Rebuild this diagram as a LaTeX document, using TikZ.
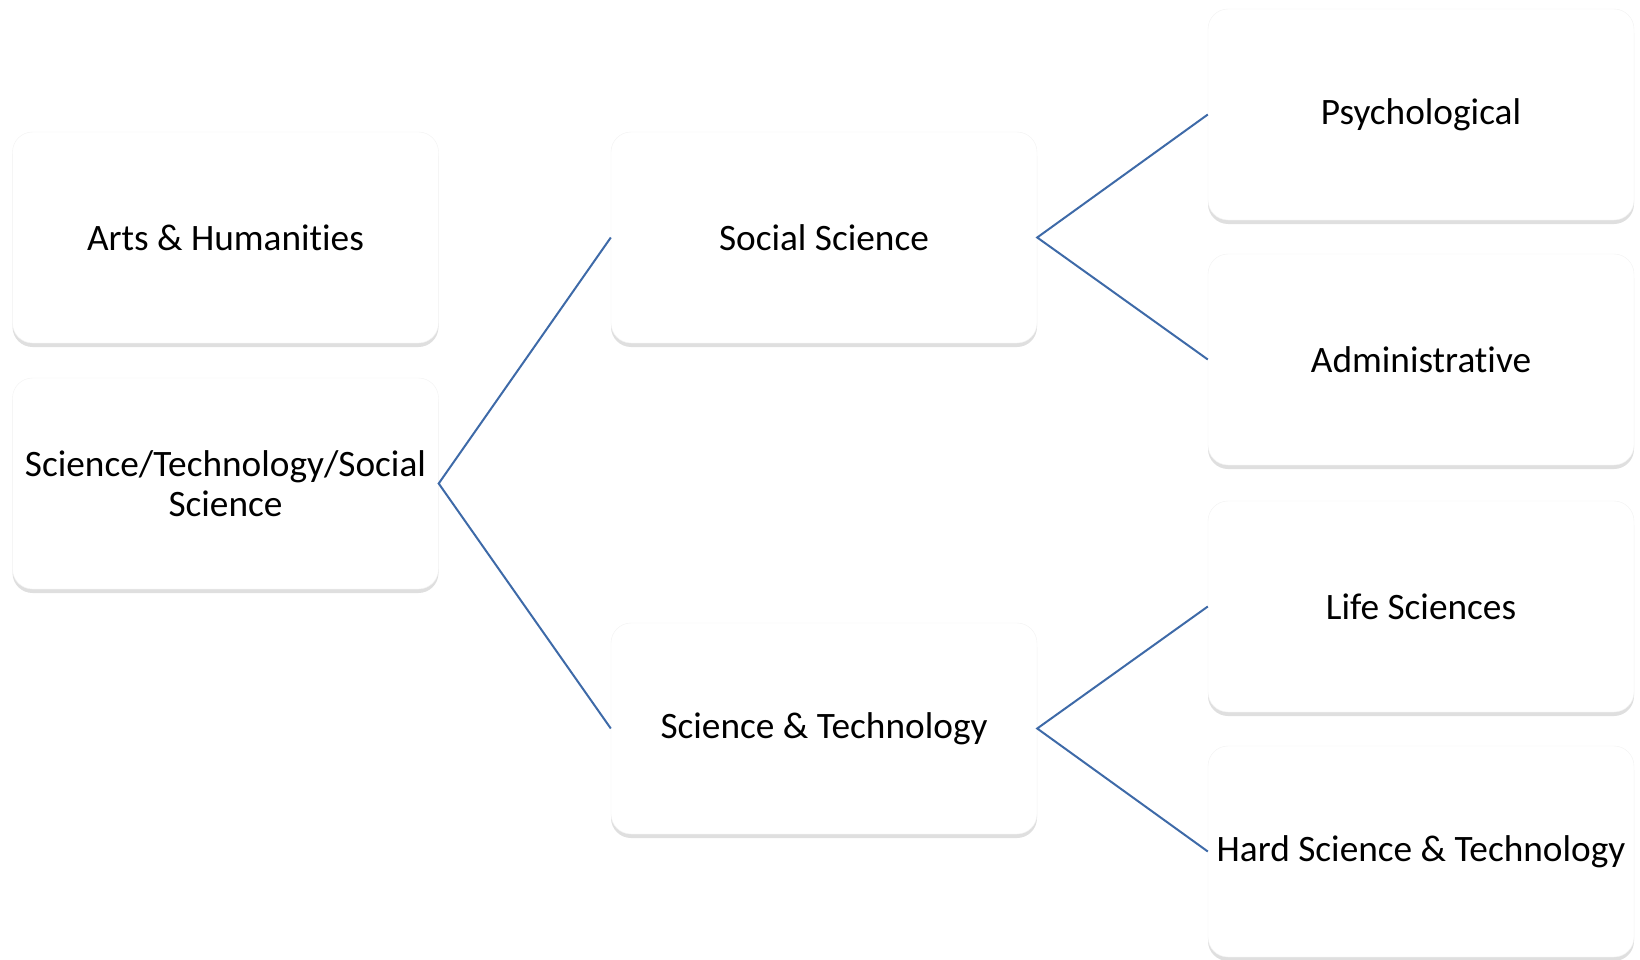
\documentclass[tikz,border=0pt]{standalone}
\usepackage{fontspec}
\setmainfont[Ligatures=NoCommon]{Carlito}
\usetikzlibrary{shadows}
\definecolor{linkblue}{RGB}{62,106,168}
\tikzset{
	field/.style={rectangle, rounded corners=20pt, fill=white, draw=gray!10,
		minimum width=426pt, minimum height=211pt, align=center, inner sep=0pt,
		font=\fontsize{37.3}{40.5}\selectfont,
		drop shadow={opacity=0.25, shadow xshift=0pt, shadow yshift=-4pt}},
	link/.style={linkblue, line width=2pt}
}
\begin{document}
\begin{tikzpicture}[x=1pt, y=-1pt]
		\useasboundingbox (0,0) rectangle (1640,960);
		%first level
		\node[field] (arts) at (225.5, 237.5){Arts \& Humanities};
		\node[field] (sts) at (225.5, 483.5){Science/Technology/Social\\Science};
		
		%second level
		\node[field] (soc) at (824, 237.5){Social Science};
		\node[field] (scitech) at (824, 728.5){Science \& Technology};
		
		%third level
		\node[field] (psy) at (1421, 114.5){Psychological};
		\node[field] (adm) at (1421, 359.5){Administrative};
		\node[field] (life) at (1421, 606.5){Life Sciences};
		\node[field] (hard) at (1421, 851.5){Hard Science \& Technology};
		
		%links
		\draw[link] (soc.west) -- (sts.east) -- (scitech.west);
		\draw[link] (psy.west) -- (soc.east) -- (adm.west);
		\draw[link] (life.west) -- (scitech.east) -- (hard.west);
		\end{tikzpicture}
\end{document}
